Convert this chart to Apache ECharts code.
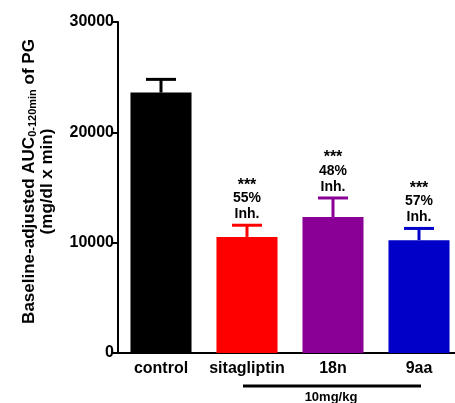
<!DOCTYPE html>
<html>
<head>
<meta charset="utf-8">
<script src="https://cdn.jsdelivr.net/npm/echarts@6/dist/echarts.min.js"></script>
<style>html,body{margin:0;padding:0;background:#fff}#c{width:455px;height:403px}</style>
</head>
<body>
<div id="c"></div>
<script>
var categories = ['control', 'sitagliptin', '18n', '9aa'];
var means = [23600, 10520, 12330, 10230];
var errUpper = [24800, 11580, 14050, 11290];
var colors = ['#000000', '#ff0000', '#8a0097', '#0000c8'];
var annotations = ['', '***\n55%\nInh.', '***\n48%\nInh.', '***\n57%\nInh.'];
var yTicks = [0, 10000, 20000, 30000];
var doseLabel = '10mg/kg';
var doseRange = [1, 3];

var FONT = 'Liberation Sans, Arial, sans-serif';
var chart = echarts.init(document.getElementById('c'), null, {renderer: 'canvas'});

var errData = categories.map(function (c, i) { return [i, means[i], errUpper[i]]; });

chart.setOption({
  backgroundColor: '#ffffff',
  animation: false,
  grid: {left: 118, top: 22, width: 344, height: 331, containLabel: false, outerBoundsMode: 'none'},
  xAxis: {
    type: 'category',
    data: categories,
    axisLine: {lineStyle: {color: '#000', width: 2}},
    axisTick: {alignWithLabel: true, length: 5, lineStyle: {color: '#000', width: 2}},
    axisLabel: {interval: 0, hideOverlap: false, color: '#000', fontWeight: 'bold', fontSize: 16, fontFamily: FONT, margin: 8}
  },
  yAxis: {
    type: 'value',
    min: yTicks[0], max: yTicks[yTicks.length - 1], interval: 10000,
    splitLine: {show: false},
    axisLine: {show: true, lineStyle: {color: '#000', width: 2}},
    axisTick: {show: true, length: 5, lineStyle: {color: '#000', width: 2}},
    axisLabel: {color: '#000', fontWeight: 'bold', fontSize: 16, fontFamily: FONT, margin: 4,
      formatter: function (v) { return String(v); }},
    name: 'Baseline-adjusted AUC{sub|0-120min} of PG\n(mg/dl x min)',
    nameLocation: 'middle',
    nameRotate: 90,
    nameGap: 62,
    nameTextStyle: {
      color: '#000', fontWeight: 'bold', fontSize: 17, fontFamily: FONT, lineHeight: 18,
      padding: [0, 0, 0, 12],
      rich: {sub: {fontSize: 11, fontWeight: 'bold', fontFamily: FONT, color: '#000', lineHeight: 10, verticalAlign: 'bottom'}}
    }
  },
  series: [
    {
      type: 'bar',
      barWidth: '71%',
      data: means.map(function (v, i) { return {value: v, itemStyle: {color: colors[i]}}; })
    },
    {
      type: 'custom',
      clip: false,
      data: errData,
      z: 3,
      renderItem: function (params, api) {
        var i = api.value(0);
        var p0 = api.coord([i, api.value(1)]);
        var p1 = api.coord([i, api.value(2)]);
        var col = colors[i];
        var half = 15;
        var children = [
          {type: 'line', shape: {x1: p0[0], y1: p0[1], x2: p1[0], y2: p1[1]}, style: {stroke: col, lineWidth: 3}},
          {type: 'line', shape: {x1: p1[0] - half, y1: p1[1], x2: p1[0] + half, y2: p1[1]}, style: {stroke: col, lineWidth: 3}}
        ];
        if (annotations[i]) {
          var parts = annotations[i].split('\n');
          children.push({
            type: 'text',
            x: p1[0], y: p1[1] - 3,
            style: {
              text: '{s|' + parts[0] + '}\n{t|' + parts[1] + '}\n{t|' + parts[2] + '}',
              align: 'center', verticalAlign: 'bottom',
              rich: {
                s: {fontSize: 16, fontWeight: 'bold', fontFamily: FONT, fill: '#000', lineHeight: 14, padding: [4, 0, 0, 0]},
                t: {fontSize: 14, fontWeight: 'bold', fontFamily: FONT, fill: '#000', lineHeight: 16}
              }
            }
          });
        }
        return {type: 'group', children: children};
      }
    },
    {
      type: 'custom',
      clip: false,
      data: [[doseRange[0], doseRange[1]]],
      renderItem: function (params, api) {
        var a = api.coord([api.value(0), 0]);
        var b = api.coord([api.value(1), 0]);
        var y = a[1] + 33;
        return {
          type: 'group',
          children: [
            {type: 'line', shape: {x1: a[0] - 4, y1: y, x2: b[0] + 2, y2: y}, style: {stroke: '#000', lineWidth: 3}},
            {type: 'text', x: (a[0] + b[0]) / 2 - 2, y: y + 5,
             style: {text: doseLabel, align: 'center', verticalAlign: 'top', fontSize: 13, fontWeight: 'bold', fontFamily: FONT, fill: '#000'}}
          ]
        };
      }
    }
  ]
});
</script>
</body>
</html>
